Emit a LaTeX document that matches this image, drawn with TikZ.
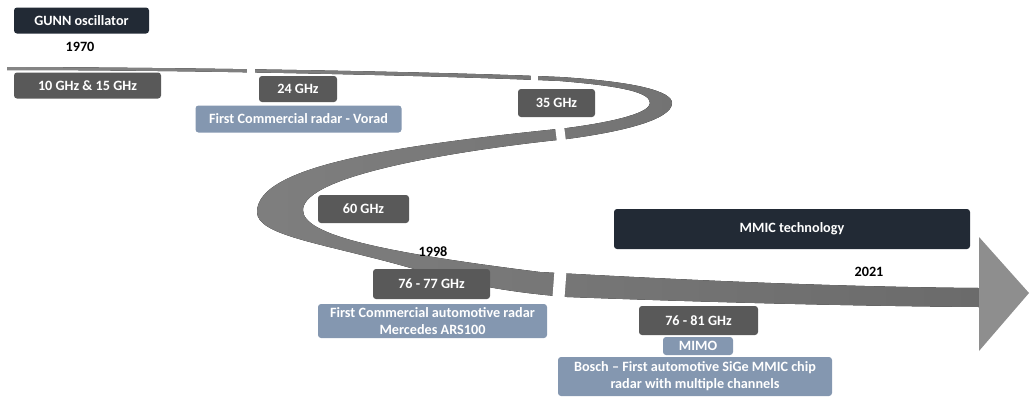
\documentclass[tikz,border=0pt]{standalone}
\usepackage{fontspec}
\setmainfont{Carlito}
\definecolor{navy}{HTML}{222A35}
\definecolor{dgray}{HTML}{595959}
\definecolor{bgray}{HTML}{8497B0}
\definecolor{ribL}{HTML}{858585}
\definecolor{ribR}{HTML}{6B6B6B}
\definecolor{headc}{HTML}{8E8E8E}
\begin{document}
\begin{tikzpicture}[x=1pt,y=-1pt,
  box/.style={rounded corners=3pt, inner sep=0pt, text=white, font=\bfseries\fontsize{14.2}{16.8}\selectfont, align=center},
  navybox/.style={box, fill=navy},
  graybox/.style={box, fill=dgray},
  bluebox/.style={box, fill=bgray},
  yearlbl/.style={inner sep=0pt, font=\bfseries\fontsize{14.2}{16.8}\selectfont, text=black},
  gap/.style={white, line width=#1}]
\useasboundingbox (0,0) rectangle (1036,397);
% ribbon
\fill[left color=ribL, right color=ribR]
  (7,67) .. controls (200,67.5) and (450,72) .. (560,77)
  .. controls (640,82) and (672,92) .. (672,103)
  .. controls (672,120) and (620,132) .. (567,139)
  .. controls (460,150) and (303,175) .. (303,210)
  .. controls (303,235) and (380,252) .. (540,272)
  .. controls (700,281) and (850,287) .. (979,288)
  -- (979,307)
  .. controls (850,306) and (700,302) .. (567,297)
  .. controls (480,290) and (440,276) .. (400,265)
  .. controls (320,243) and (257,235) .. (257,212)
  .. controls (257,165) and (400,145) .. (567,128)
  .. controls (620,121) and (650,112) .. (650,103)
  .. controls (650,92) and (620,86) .. (560,81)
  .. controls (450,76) and (200,70) .. (7,70) -- cycle;
\fill[headc] (979,237) -- (1029,293) -- (979,351) -- cycle;
% gaps
\draw[gap=8pt] (251,60) -- (251,80);
\draw[gap=7pt] (534.5,68) -- (534.5,88);
\draw[gap=9pt] (559,122) -- (562,146);
\draw[gap=12pt] (561,264) -- (558,304);
% boxes
\node[navybox, minimum width=135pt, minimum height=26pt] (gunn) at (81.5,20.5) {GUNN oscillator};
\node[yearlbl] (y1970) at (80,47) {1970};
\node[graybox, minimum width=147pt, minimum height=26pt] (f10) at (87.5,85.5) {10 GHz \& 15 GHz};
\node[graybox, minimum width=78pt, minimum height=26pt] (f24) at (298,89) {24 GHz};
\node[bluebox, minimum width=206pt, minimum height=27pt] (vorad) at (298.5,119) {First Commercial radar - Vorad};
\node[graybox, minimum width=77pt, minimum height=28pt] (f35) at (556.5,103) {35 GHz};
\node[graybox, minimum width=91pt, minimum height=28pt] (f60) at (363.5,209) {60 GHz};
\node[yearlbl] (y1998) at (433,252) {1998};
\node[graybox, minimum width=117pt, minimum height=30pt] (f7677) at (431.5,284) {76 - 77 GHz};
\node[bluebox, minimum width=229pt, minimum height=34pt] (merc) at (432.5,321) {First Commercial automotive radar\\Mercedes ARS100};
\node[navybox, minimum width=356pt, minimum height=40pt] (mmic) at (792,229) {MMIC technology};
\node[yearlbl] (y2021) at (869,272) {2021};
\node[graybox, minimum width=119pt, minimum height=29pt] (f7681) at (698.5,320.5) {76 - 81 GHz};
\node[bluebox, minimum width=70pt, minimum height=18pt] (mimo) at (698,346) {MIMO};
\node[bluebox, minimum width=274pt, minimum height=39pt] (bosch) at (695,376.5) {Bosch – First automotive SiGe MMIC chip\\radar with multiple channels};
\end{tikzpicture}
\end{document}
